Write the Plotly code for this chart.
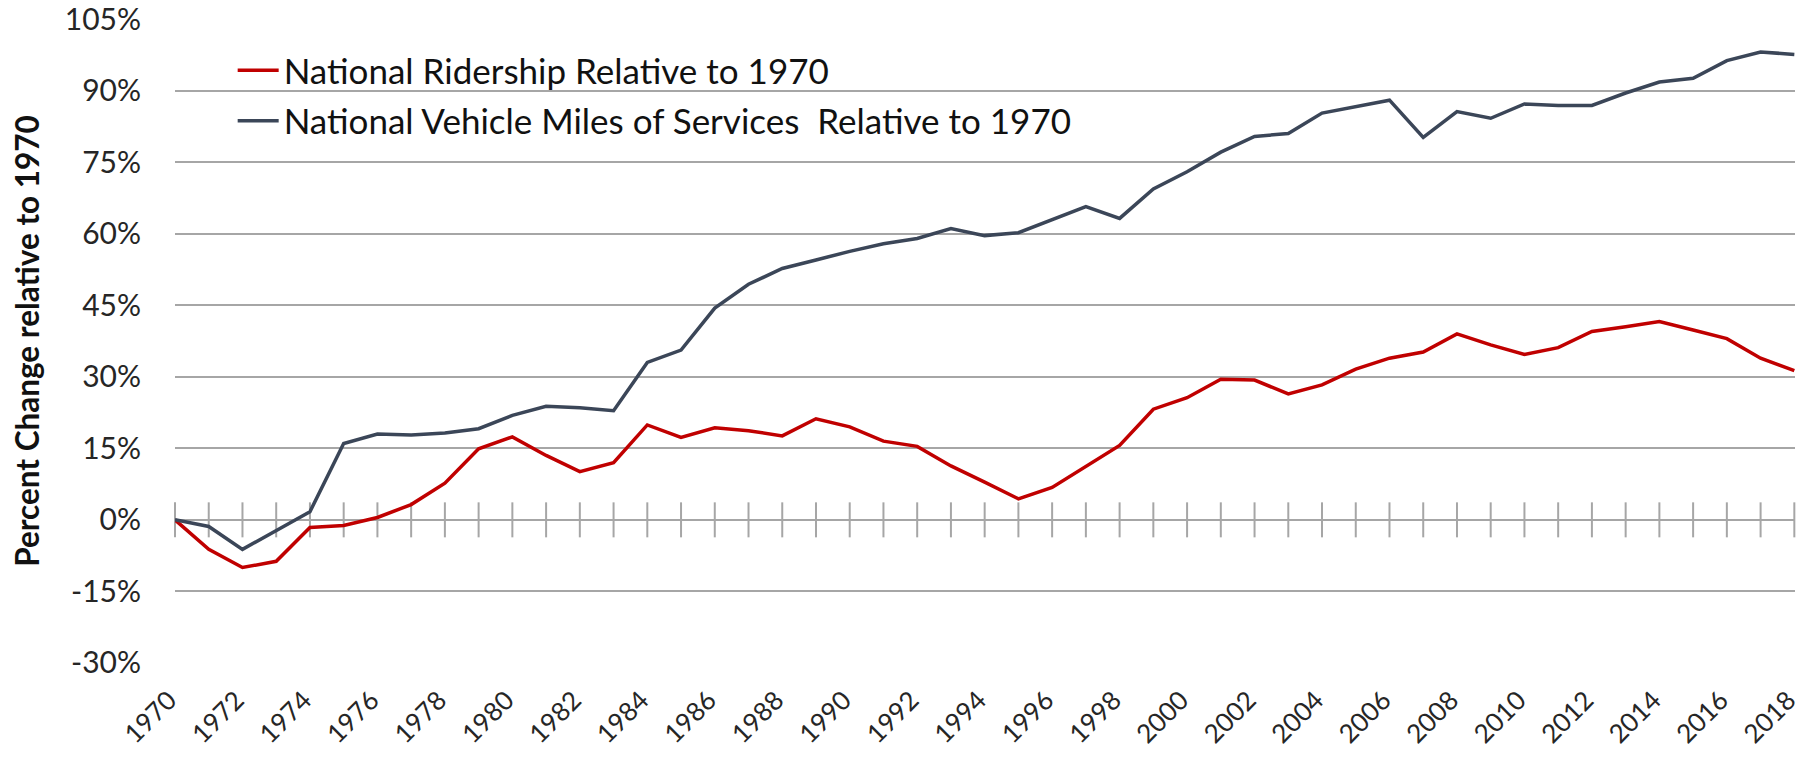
import plotly.graph_objects as go

# Years 1970-2018
years = list(range(1970, 2019))

# Percent change relative to 1970
ridership = [
    0.0, -6.2, -10.0, -8.7, -1.6, -1.2, 0.5, 3.2, 7.7, 14.9,
    17.4, 13.5, 10.1, 12.0, 19.9, 17.3, 19.3, 18.7, 17.6, 21.2,
    19.5, 16.5, 15.4, 11.3, 7.9, 4.4, 6.8, 11.3, 15.6, 23.2,
    25.6, 29.5, 29.3, 26.4, 28.3, 31.6, 33.9, 35.2, 39.0, 36.7,
    34.7, 36.1, 39.5, 40.5, 41.6, 39.8, 38.0, 33.9, 31.3,
]
vehicle_miles = [
    0.0, -1.4, -6.2, -2.2, 1.7, 16.0, 18.0, 17.8, 18.2, 19.1,
    21.9, 23.8, 23.5, 22.9, 33.0, 35.6, 44.4, 49.4, 52.7, 54.5,
    56.3, 57.9, 59.0, 61.1, 59.6, 60.2, 62.9, 65.7, 63.2, 69.4,
    73.0, 77.1, 80.4, 81.0, 85.3, 86.7, 88.0, 80.2, 85.6, 84.2,
    87.2, 86.9, 86.9, 89.5, 91.8, 92.6, 96.3, 98.1, 97.6,
]

y_ticks = [105, 90, 75, 60, 45, 30, 15, 0, -15, -30]
x_label_years = list(range(1970, 2019, 2))

RED = "#C00000"
SLATE = "#3B4658"
GRID = "#A6A6A6"
TEXT = "#262626"

fig = go.Figure()

# Year tick marks sitting on the zero line
fig.add_trace(go.Scatter(
    x=years, y=[0] * len(years), mode="markers",
    marker=dict(symbol="line-ns", size=25, line=dict(width=2, color=GRID)),
    showlegend=False, hoverinfo="skip", cliponaxis=False,
))

fig.add_trace(go.Scatter(
    x=years, y=ridership, mode="lines",
    name="National Ridership Relative to 1970",
    line=dict(color=RED, width=3.5), legendgroup="a",
))
fig.add_trace(go.Scatter(
    x=years, y=vehicle_miles, mode="lines",
    name="National Vehicle Miles of Services  Relative to 1970",
    line=dict(color=SLATE, width=3.5), legendgroup="b",
))

fig.update_layout(
    width=1806, height=761,
    margin=dict(l=175, r=11, t=19, b=98, autoexpand=False),
    paper_bgcolor="white", plot_bgcolor="white",
    font=dict(family="Lato", color=TEXT),
    legend=dict(
        x=0.0356, y=0.966, xanchor="left", yanchor="top",
        bgcolor="rgba(0,0,0,0)", font=dict(size=35, color="#111111"),
        tracegroupgap=2, itemwidth=41,
    ),
    xaxis=dict(
        range=[1970, 2018.02], tickvals=x_label_years,
        ticktext=[str(y) for y in x_label_years],
        tickangle=-45, tickfont=dict(size=26, color=TEXT),
        showgrid=False, zeroline=False, showline=False, ticks="",
        ticklabelstandoff=16, ticklabelshift=-6,
        ticklabeloverflow="allow",
    ),
    yaxis=dict(
        range=[-30.02, 105.02], tickvals=y_ticks,
        ticktext=[f"{v}%" for v in y_ticks],
        tickfont=dict(size=30, color=TEXT),
        showgrid=True, gridcolor=GRID, gridwidth=2,
        zeroline=True, zerolinecolor=GRID, zerolinewidth=2,
        showline=False, ticks="", ticklabelstandoff=33,
        ticklabeloverflow="allow",
        title=dict(text="<b>Percent Change relative to 1970</b>",
                   font=dict(size=31.5, color="#111111"), standoff=15),
    ),
)

fig.write_html("out.html")
